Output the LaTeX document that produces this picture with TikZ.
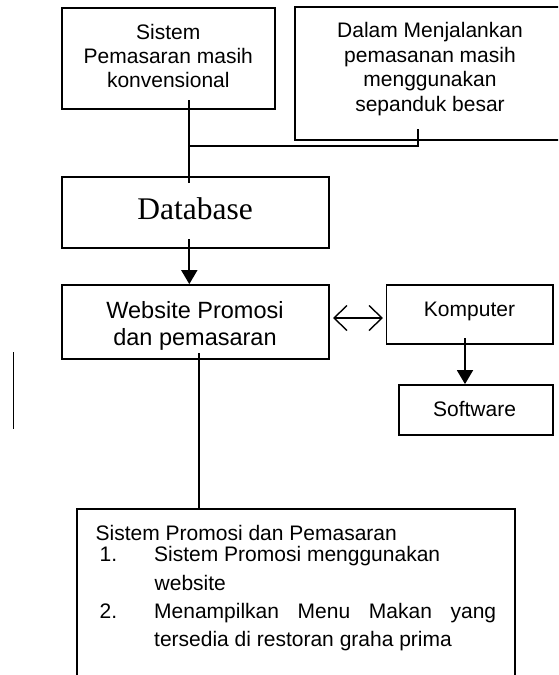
\documentclass[tikz,border=0pt]{standalone}
\usepackage{fontspec}
\setmainfont{Liberation Sans}
\newfontfamily\serifdb{Liberation Serif}
\usetikzlibrary{arrows.meta}
\tikzset{
  box/.style={draw=black, line width=1.8pt, inner sep=0pt},
  txt/.style={inner sep=0pt, anchor=base, font=\fontsize{21}{25}\selectfont},
  txtl/.style={txt, anchor=base west},
  conn/.style={draw=black, line width=1.8pt},
  solidarrow/.style={conn, -{Triangle[length=14pt,width=16pt]}},
  barbarrow/.style={conn, line width=1.4pt, {Straight Barb[length=13pt,width=25pt]}-{Straight Barb[length=13pt,width=25pt]}}
}
\begin{document}
\begin{tikzpicture}[x=1pt,y=-1pt]
\useasboundingbox (0,0) rectangle (558,675);
\clip (0,0) rectangle (558,675);
\fill[white] (0,0) rectangle (558,675);

% boxes
\node[box, minimum width=213.3pt, minimum height=100.7pt] (b1) at (168.35,58.65) {};
\node[box, minimum width=270pt, minimum height=133.3pt] (b2) at (430,73.35) {};
\node[box, minimum width=267pt, minimum height=71pt] (db) at (195.2,212.2) {};
\node[box, minimum width=267.3pt, minimum height=74pt] (web) at (195.35,322) {};
\node[box, minimum width=166.5pt, minimum height=59pt] (komp) at (469.75,314.5) {};
\node[box, minimum width=154pt, minimum height=50pt] (soft) at (476,410) {};
\node[box, minimum width=437.7pt, minimum height=190.7pt] (bot) at (296.15,604.65) {};

% texts
\node[txt] (b1a) at (168.3,39) {Sistem};
\node[txt] (b1b) at (168.3,63.4) {Pemasaran masih};
\node[txt] (b1c) at (168.3,87.8) {konvensional};

\node[txt] (b2a) at (430,37.3) {Dalam Menjalankan};
\node[txt] (b2b) at (430,62.7) {pemasanan masih};
\node[txt] (b2c) at (430,86.8) {menggunakan};
\node[txt] (b2d) at (430,111) {sepanduk besar};

\node[txt, font=\serifdb\fontsize{31.5}{36}\selectfont] (dbt) at (195.2,219) {Database};

\node[txt, font=\fontsize{23.5}{27}\selectfont] (weba) at (195,318.5) {Website Promosi};
\node[txt, font=\fontsize{23.5}{27}\selectfont] (webb) at (195,345.3) {dan pemasaran};

\node[txt] (kompt) at (469.5,316) {Komputer};
\node[txt] (softt) at (474.5,416) {Software};

\node[txtl] (bott) at (95.5,540) {Sistem Promosi dan Pemasaran};
\node[txtl] (n1) at (99.5,561.7) {1.};
\node[txtl] (i1a) at (154,561.7) {Sistem Promosi menggunakan};
\node[txtl] (i1b) at (154.5,590.7) {website};
\node[txtl] (n2) at (99.5,618.3) {2.};
\node[txtl] (i2a) at (154,618.3) {\makebox[342pt][s]{Menampilkan Menu Makan yang}};
\node[txtl] (i2b) at (154,646.7) {tersedia di restoran graha prima};

% connector points
\coordinate (c1top) at (189.3,100);
\coordinate (c1bot) at (189.3,183);
\coordinate (cj) at (189.3,145.7);
\coordinate (c2a) at (418.3,145.7);
\coordinate (c2b) at (418.3,129);
\coordinate (a1) at (189.3,239);
\coordinate (a2) at (465,338);
\coordinate (d1) at (333,318);
\coordinate (d2) at (383,318);
\coordinate (w1) at (199,353);
\coordinate (s1) at (13.3,352);
\coordinate (s2) at (13.3,429);

% connectors
\draw[conn] (c1top) -- (c1bot);
\draw[conn] (cj) -- (c2a) -- (c2b);
\draw[solidarrow] (a1) -- (a1 |- web.north);
\draw[solidarrow] (a2) -- (a2 |- soft.north);
\draw[barbarrow] (d1) -- (d2);
\draw[conn] (w1) -- (w1 |- bot.north);
\draw[conn, line width=1.4pt] (s1) -- (s2);
\end{tikzpicture}
\end{document}
